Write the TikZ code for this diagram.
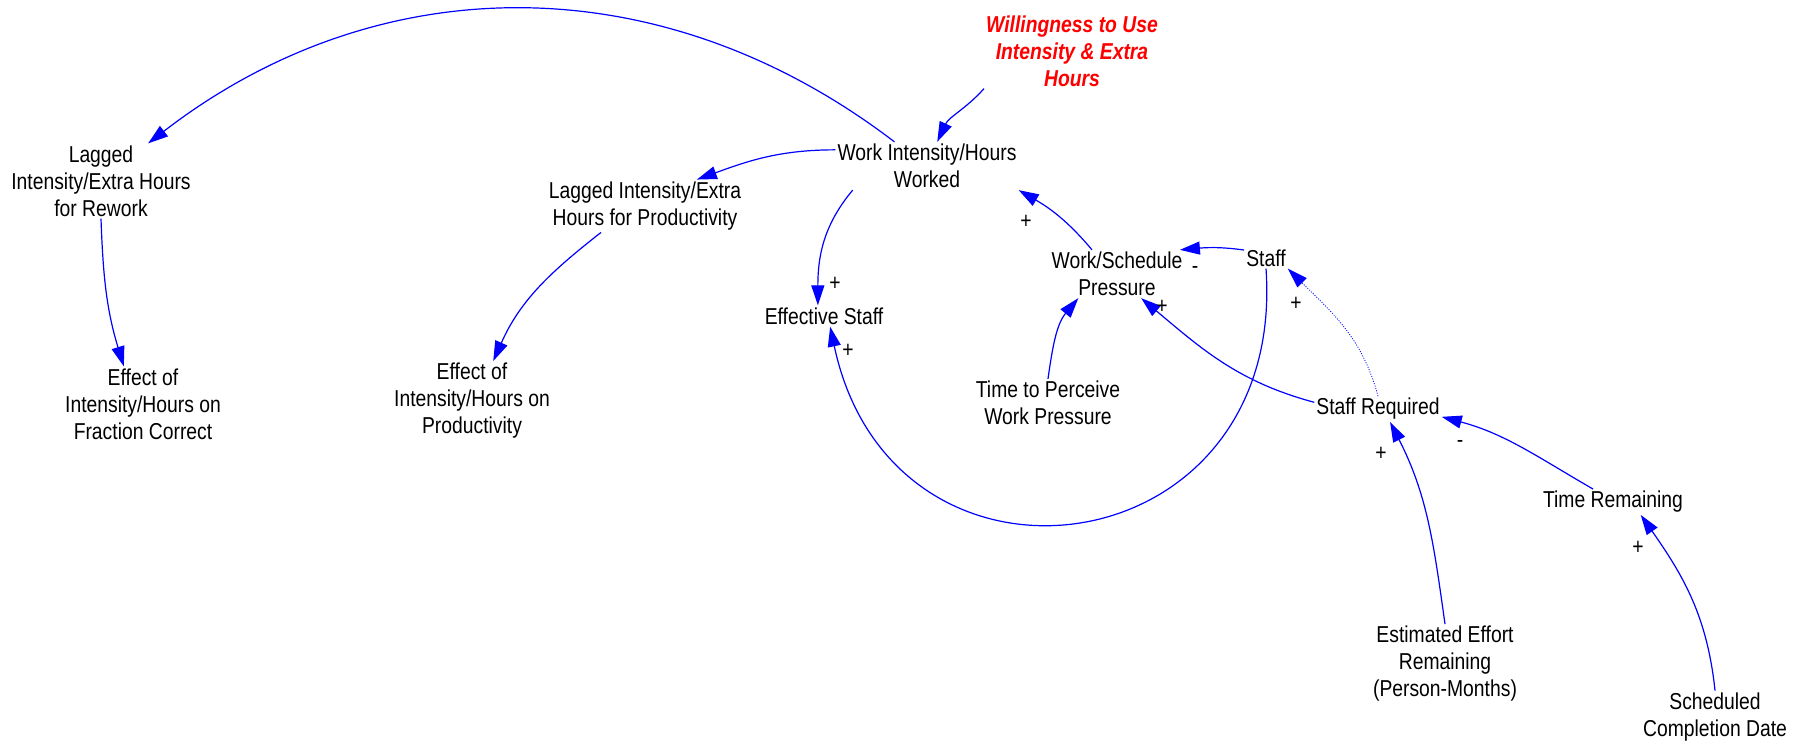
\documentclass[tikz,border=0pt]{standalone}
\usepackage{fontspec}
\setmainfont{Liberation Sans}[FakeStretch=0.84]
\usetikzlibrary{arrows.meta}

\begin{document}
\begin{tikzpicture}[x=1pt,y=-1pt,font=\fontsize{23}{27}\selectfont,
  var/.style={align=center,inner sep=2pt},
  link/.style={blue,line width=1.2pt,-{Triangle[length=20pt,width=13pt]}}]
\useasboundingbox (0,0) rectangle (1810,743);
% variables
\node[var] (lagrw) at (101,181) {Lagged\\Intensity/Extra Hours\\for Rework};
\node[var] (effrc) at (143,404) {Effect of\\Intensity/Hours on\\Fraction Correct};
\node[var] (lagpr) at (645,206) {Lagged Intensity/Extra\\Hours for Productivity};
\node[var] (effpr) at (472,401) {Effect of\\Intensity/Hours on\\Productivity};
\node[var] (wih) at (927,166) {Work Intensity/Hours\\Worked};
\node[var,red,font=\fontsize{23}{27}\selectfont\bfseries\itshape] (wuse) at (1072,51) {Willingness to Use\\Intensity \& Extra\\Hours};
\node[var] (effst) at (824,316) {Effective Staff};
\node[var] (wsp) at (1117,274) {Work/Schedule\\Pressure};
\node[var] (staff) at (1266,258) {Staff};
\node[var] (ttp) at (1048,403) {Time to Perceive\\Work Pressure};
\node[var] (streq) at (1378,409) {Staff Required};
\node[var] (trem) at (1613,502) {Time Remaining};
\node[var] (eer) at (1445,664) {Estimated Effort\\Remaining\\(Person-Months)};
\node[var] (scd) at (1715,717) {Scheduled\\Completion Date};
% links
\draw[link] (wih) to[bend right=37.5] (lagrw);
\draw[link] (wih.170) to[out=180,in=20] (lagpr.27);
\draw[link] (wih.198) to[out=230,in=90] (effst.120);
\draw[link] (wuse.south west) to[out=228,in=65] (wih.67);
\draw[link] (wsp.136) to[out=130,in=-30] (wih.south east);
\draw[link] (staff.160) to[out=172,in=5] (wsp.21);
\draw[link] (staff.south) to[out=-86,in=-78,looseness=1.75] (effst.-60);
\draw[link] (streq.174) to[out=165,in=-40] (wsp.-45);
\draw[link,line width=0.8pt,dash pattern=on 1pt off 1.5pt] (streq.north) to[out=105,in=-45] (staff.south east);
\draw[link] (ttp.north) to[out=82,in=-130] (wsp.212);
\draw[link] (eer.north) to[out=98,in=-63] (streq.-47);
\draw[link] (trem.147) to[out=150,in=-15] (streq.-7);
\draw[link] (scd.north) to[out=96,in=-55] (trem.-25);
\draw[link] (lagrw.south) to[out=-88,in=107] (effrc.117);
\draw[link] (lagpr.211) to[out=218,in=66] (effpr.62);
% polarities
\foreach \nm/\px/\py/\sg in {pc/835/284/+,pg/848/351/+,pe/1026/222/+,pf/1195/270/-,ph/1162/307/+,
  pi/1296/304/+,pk/1381/454/+,pl/1460/444/-,pm/1638/548/+}
  \node[inner sep=0pt] (\nm) at (\px,\py) {\sg};
\end{tikzpicture}
\end{document}
